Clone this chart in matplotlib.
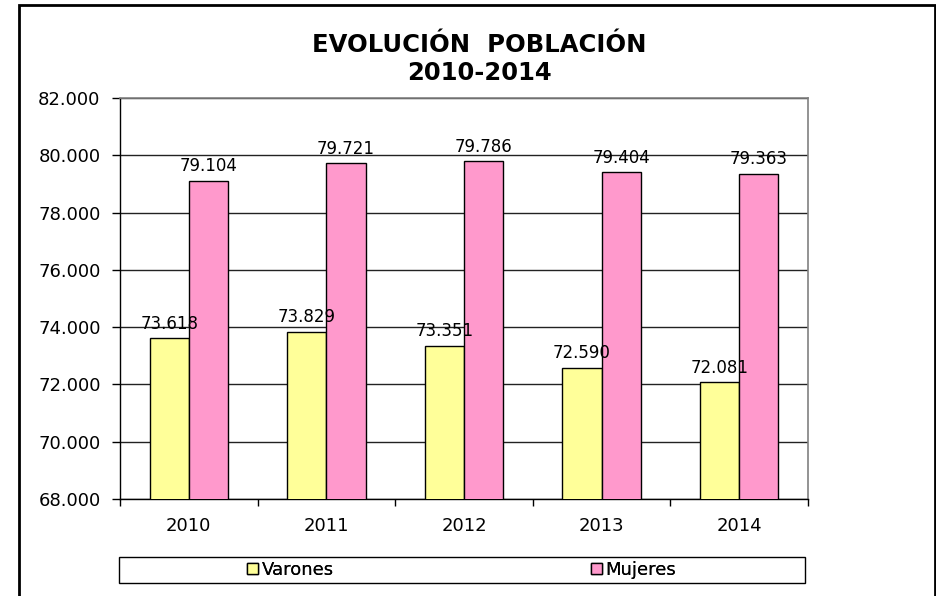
import numpy as np
import matplotlib
matplotlib.use("Agg")
import matplotlib.pyplot as plt
from matplotlib.patches import Rectangle
from matplotlib.ticker import FuncFormatter

years = ["2010", "2011", "2012", "2013", "2014"]
varones = [73618, 73829, 73351, 72590, 72081]
mujeres = [79104, 79721, 79786, 79404, 79363]
series_names = ["Varones", "Mujeres"]

YELLOW = "#FFFF99"
PINK = "#FF99CC"
W, H = 937, 596


def miles(v, _pos=None):
    return f"{int(round(v)):,}".replace(",", ".")


fig = plt.figure(figsize=(W / 100, H / 100), dpi=100)
fig.patch.set_facecolor("white")
plt.rcParams["font.family"] = ["DejaVu Sans"]

# plot area in pixel coords: x 120..808, y 98..499
ax = fig.add_axes([120 / W, 1 - 499 / H, (808 - 120) / W, (499 - 98) / H])

x = np.arange(len(years))
bw = 0.285
b1 = ax.bar(x - bw / 2, varones, bw, color=YELLOW, edgecolor="black", linewidth=1, zorder=3)
b2 = ax.bar(x + bw / 2, mujeres, bw, color=PINK, edgecolor="black", linewidth=1, zorder=3)

ax.set_ylim(68000, 82000)
ax.set_xlim(-0.5, len(years) - 0.5)
ax.set_yticks(np.arange(68000, 82001, 2000))
ax.yaxis.set_major_formatter(FuncFormatter(miles))
ax.set_xticks(x)
ax.set_xticklabels(years)
ax.set_xticks(np.arange(-0.5, len(years), 1), minor=True)
ax.tick_params(axis="x", which="major", length=0, pad=13, labelsize=13)
ax.tick_params(axis="x", which="minor", length=5, width=1, color="black")
ax.tick_params(axis="y", length=6, width=1, pad=8, labelsize=13)

ax.grid(axis="y", color="#222222", linewidth=1, zorder=0)
ax.set_axisbelow(True)
for side in ["top", "right"]:
    ax.spines[side].set_color("#808080")
    ax.spines[side].set_linewidth(1.2)
for side in ["left", "bottom"]:
    ax.spines[side].set_color("black")
    ax.spines[side].set_linewidth(1)

# value labels
for bars, vals in [(b1, varones), (b2, mujeres)]:
    for rect, v in zip(bars, vals):
        ax.annotate(miles(v), (rect.get_x() + rect.get_width() / 2, v),
                    xytext=(0, 4), textcoords="offset points",
                    ha="center", va="bottom", fontsize=12, zorder=5)

fig.text(479 / W, 1 - 59 / H, "EVOLUCIÓN  POBLACIÓN\n2010-2014", ha="center", va="center",
         fontsize=17.5, fontweight="bold", linespacing=1.2)

# legend box
lx0, lx1, ly0, ly1 = 119, 805, 557, 583
fig.add_artist(Rectangle((lx0 / W, 1 - ly1 / H), (lx1 - lx0) / W, (ly1 - ly0) / H,
                         transform=fig.transFigure, facecolor="white",
                         edgecolor="black", linewidth=1))
half = (lx1 - lx0) / 2
for i, (h, name) in enumerate(zip([b1, b2], series_names)):
    cx = (lx0 + half * (i + 0.5)) / W
    leg = fig.legend([h], [name], loc="center", bbox_to_anchor=(cx, 1 - 570 / H),
                     frameon=False, fontsize=13, handlelength=0.6, handleheight=0.6,
                     handletextpad=0.2, borderpad=0)
    fig.add_artist(leg)

# outer chart border
fig.add_artist(Rectangle((19 / W, -0.05), (935 - 19) / W, 1 - 5 / H + 0.05,
                         transform=fig.transFigure, fill=False,
                         edgecolor="black", linewidth=2))

fig.savefig("out.png", dpi=100)
